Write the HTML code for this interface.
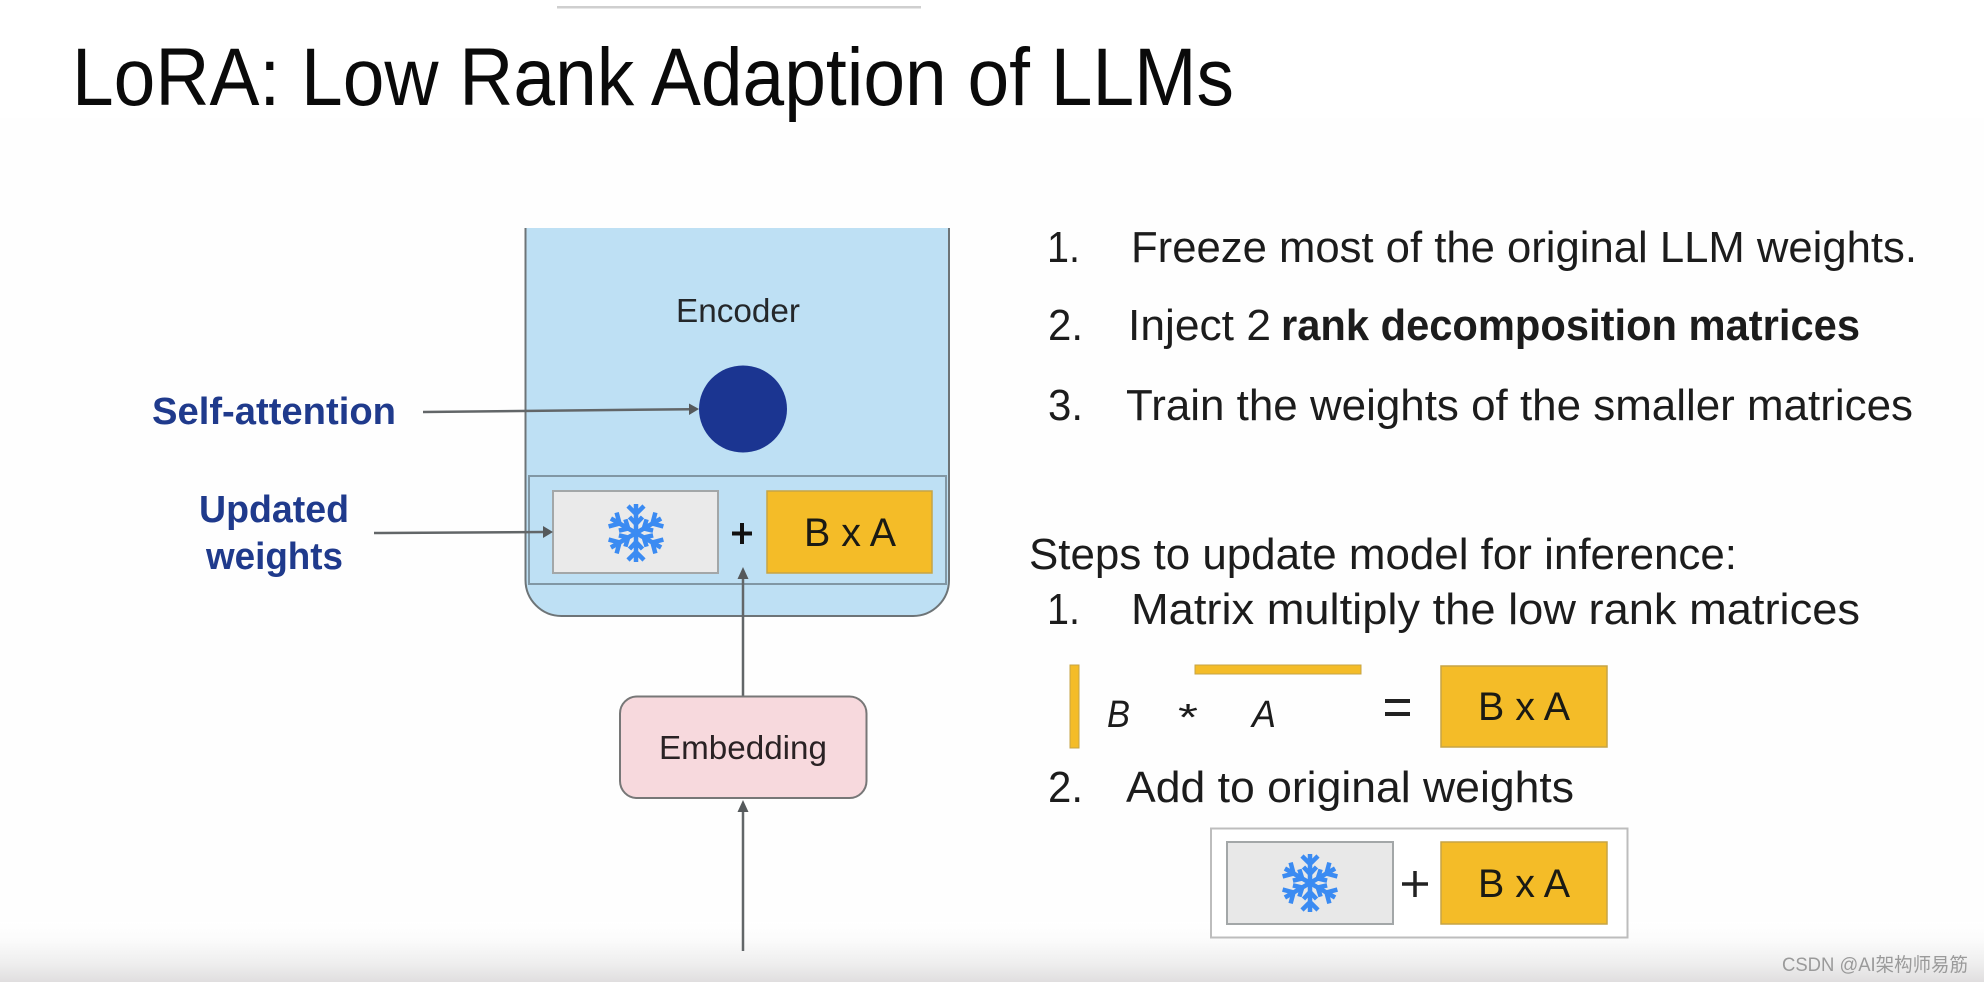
<!DOCTYPE html>
<html><head><meta charset="utf-8"><style>
html,body{margin:0;padding:0;background:#fff;width:1984px;height:982px;overflow:hidden}
svg{display:block}
text{font-family:"Liberation Sans","Noto Sans CJK SC",sans-serif;fill:#1c1c1c}
.t{font-size:44px}
.m{font-size:40px;fill:#1a1a14}
.l{font-size:38px;font-weight:bold;fill:#1f3a8c}
</style></head><body>
<svg width="1984" height="982" viewBox="0 0 1984 982" xmlns="http://www.w3.org/2000/svg">
<defs>
<linearGradient id="bot" x1="0" y1="0" x2="0" y2="1">
<stop offset="0" stop-color="#fff"/><stop offset=".3" stop-color="#fbfbfb"/><stop offset=".7" stop-color="#eeeeee"/><stop offset="1" stop-color="#e0dedf"/>
</linearGradient>
<g id="flake" stroke="#3b8bf2" stroke-width="4.5" fill="none" stroke-linecap="butt">
<path id="arm" d="M0 0V-29M-8 -27L0 -19L8 -27M-6.5 -16L0 -9L6.5 -16"/>
<use href="#arm" transform="rotate(60)"/><use href="#arm" transform="rotate(120)"/><use href="#arm" transform="rotate(180)"/><use href="#arm" transform="rotate(240)"/><use href="#arm" transform="rotate(300)"/>
</g>
</defs>
<rect width="1984" height="982" fill="#fff"/>
<rect y="118" width="1984" height="805" fill="#fefefe"/>
<rect y="922" width="1984" height="60" fill="url(#bot)"/>
<rect x="557" y="6" width="364" height="2.5" fill="#cfcfcf"/>

<text x="72" y="105" font-size="82" textLength="1162" lengthAdjust="spacingAndGlyphs" style="fill:#0a0a0a">LoRA: Low Rank Adaption of LLMs</text>

<!-- Encoder -->
<path d="M525.5 228V580a36 36 0 0 0 36 36H913a36 36 0 0 0 36-36V228" fill="#bee0f4"/>
<path d="M525.5 228V580a36 36 0 0 0 36 36H913a36 36 0 0 0 36-36V228" fill="none" stroke="#6d7477" stroke-width="2"/>
<text x="676" y="322" font-size="33" textLength="124" lengthAdjust="spacingAndGlyphs" style="fill:#24272a">Encoder</text>
<ellipse cx="743" cy="409" rx="44" ry="43.5" fill="#1b3591"/>
<rect x="529" y="476" width="417" height="108" fill="none" stroke="#8197a4" stroke-width="2"/>
<rect x="553" y="491" width="165" height="82" fill="#eaeaea" stroke="#a3a7a8" stroke-width="2"/>
<use href="#flake" transform="translate(636,533)"/>
<rect x="767" y="491" width="165" height="82" fill="#f4bc28" stroke="#c6a445" stroke-width="1.5"/>
<text class="m" x="804" y="546" textLength="92" lengthAdjust="spacingAndGlyphs">B x A</text>
<path d="M742 523V544M732 533.5H752" stroke="#111" stroke-width="4" fill="none"/>

<!-- Arrows -->
<g stroke="#626668" stroke-width="2.5" fill="none">
<path d="M423 412L690 409.2"/>
<path d="M374 533L545 532"/>
<path d="M743 696V578"/>
<path d="M743 951V810"/>
</g>
<g fill="#55595b">
<path d="M699 409L689 403.5V415Z"/>
<path d="M553 532L543 526V538Z"/>
<path d="M743 567L737.5 579H748.5Z"/>
<path d="M743 800L737.5 812H748.5Z"/>
</g>

<text class="l" x="152" y="424" textLength="244" lengthAdjust="spacingAndGlyphs">Self-attention</text>
<text class="l" x="199" y="522" textLength="150" lengthAdjust="spacingAndGlyphs">Updated</text>
<text class="l" x="206" y="569" textLength="137" lengthAdjust="spacingAndGlyphs">weights</text>

<!-- Embedding -->
<rect x="620" y="696.5" width="246.5" height="101.5" rx="17" fill="#f7d9dd" stroke="#777" stroke-width="2"/>
<text x="659" y="759" font-size="33" textLength="168" lengthAdjust="spacingAndGlyphs" style="fill:#2a2224">Embedding</text>

<!-- Right list -->
<text class="t" x="1047" y="262" textLength="33" lengthAdjust="spacingAndGlyphs">1.</text>
<text class="t" x="1131" y="262" textLength="786" lengthAdjust="spacingAndGlyphs">Freeze most of the original LLM weights.</text>
<text class="t" x="1048" y="340" textLength="35" lengthAdjust="spacingAndGlyphs">2.</text>
<text class="t" x="1128" y="340" textLength="143" lengthAdjust="spacingAndGlyphs">Inject 2</text>
<text class="t" x="1281" y="340" font-weight="bold" textLength="579" lengthAdjust="spacingAndGlyphs">rank decomposition matrices</text>
<text class="t" x="1048" y="420" textLength="35" lengthAdjust="spacingAndGlyphs">3.</text>
<text class="t" x="1126" y="420" textLength="787" lengthAdjust="spacingAndGlyphs">Train the weights of the smaller matrices</text>
<text class="t" x="1029" y="569" textLength="708" lengthAdjust="spacingAndGlyphs">Steps to update model for inference:</text>
<text class="t" x="1047" y="624" textLength="33" lengthAdjust="spacingAndGlyphs">1.</text>
<text class="t" x="1131" y="624" textLength="729" lengthAdjust="spacingAndGlyphs">Matrix multiply the low rank matrices</text>

<rect x="1070" y="665" width="9" height="83" fill="#f4bc28" stroke="#c6a445"/>
<text x="1107" y="727" font-size="38" font-style="italic" textLength="23" lengthAdjust="spacingAndGlyphs">B</text>
<text x="1178" y="730" font-size="38" textLength="20" lengthAdjust="spacingAndGlyphs">*</text>
<text x="1252" y="727" font-size="38" font-style="italic" textLength="24" lengthAdjust="spacingAndGlyphs">A</text>
<rect x="1195" y="665" width="166" height="9" fill="#f4bc28" stroke="#c6a445"/>
<path d="M1385 701H1410M1385 714H1410" stroke="#222" stroke-width="4"/>
<rect x="1441" y="666" width="166" height="81" fill="#f4bc28" stroke="#c6a445" stroke-width="1.5"/>
<text class="m" x="1478" y="720" textLength="92" lengthAdjust="spacingAndGlyphs">B x A</text>

<text class="t" x="1048" y="802" textLength="35" lengthAdjust="spacingAndGlyphs">2.</text>
<text class="t" x="1126" y="802" textLength="448" lengthAdjust="spacingAndGlyphs">Add to original weights</text>

<rect x="1211" y="828.5" width="416.5" height="109" fill="#fff" stroke="#bdbdbd" stroke-width="2"/>
<rect x="1227" y="842" width="166" height="82" fill="#e8e8e8" stroke="#a3a7a8" stroke-width="2"/>
<use href="#flake" transform="translate(1310,883)"/>
<path d="M1415 871V897M1402 884H1428" stroke="#222" stroke-width="3.5" fill="none"/>
<rect x="1441" y="842" width="166" height="82" fill="#f4bc28" stroke="#c6a445" stroke-width="1.5"/>
<text class="m" x="1478" y="897" textLength="92" lengthAdjust="spacingAndGlyphs">B x A</text>

<text x="1782" y="971" font-size="19" textLength="186" lengthAdjust="spacingAndGlyphs" style="fill:#9a9a9a">CSDN @AI架构师易筋</text>
</svg>
</body></html>
